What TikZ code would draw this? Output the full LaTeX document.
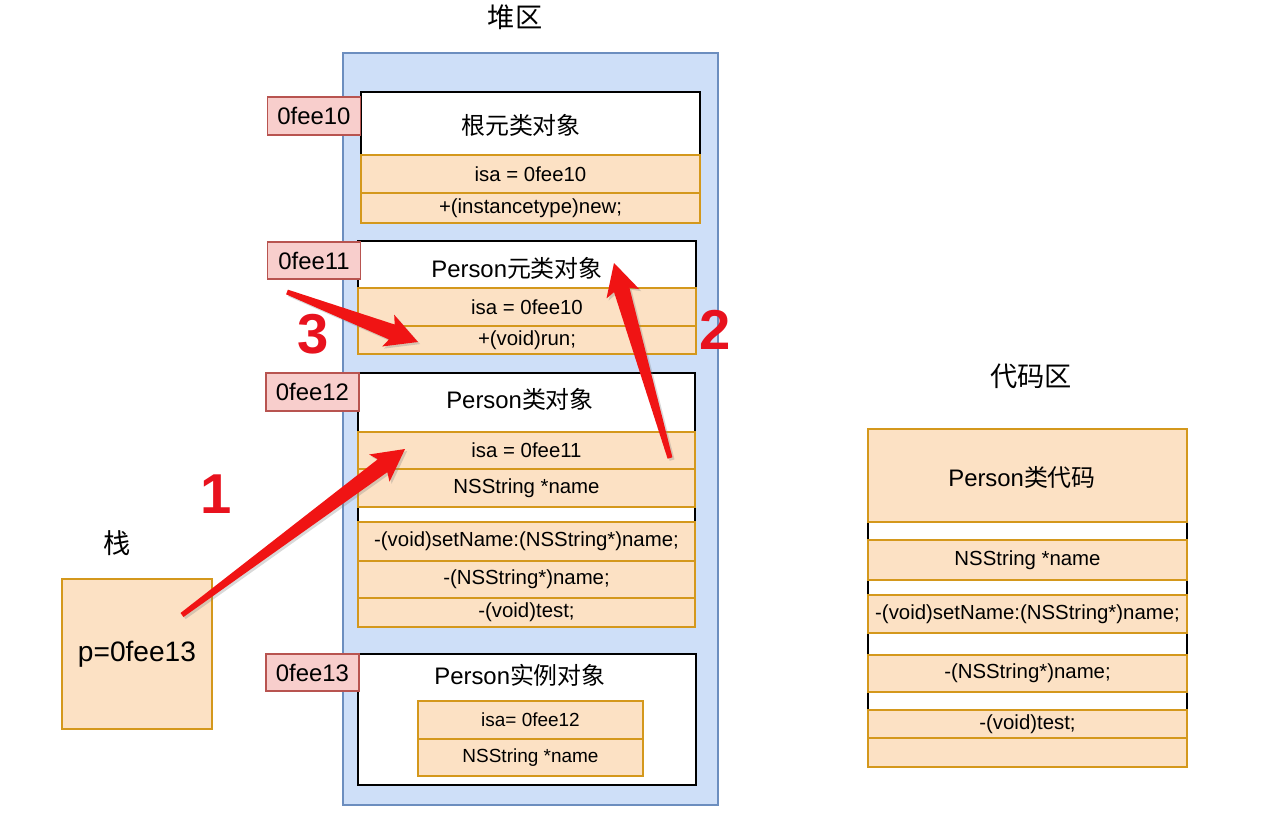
\documentclass[tikz,border=0pt]{standalone}
\usepackage{fontspec}
\setmainfont{Liberation Sans}
\newfontfamily\cjk{Noto Sans CJK SC}
\usepackage{tikz}
\usetikzlibrary{calc, shadows}
\definecolor{cHeap}{RGB}{206,223,248}
\definecolor{cHeapLine}{RGB}{108,142,191}
\definecolor{cCell}{RGB}{252,225,196}
\definecolor{cCellLine}{RGB}{212,152,28}
\definecolor{cAddr}{RGB}{248,206,204}
\definecolor{cAddrLine}{RGB}{184,84,80}
\definecolor{cArrow}{RGB}{240,20,20}
\definecolor{cNum}{RGB}{232,18,30}

% tapered arrow, tail -> tip
\newcommand{\fatarrow}[2]{%
  \fill[cArrow, drop shadow={opacity=0.3, shadow xshift=1.2pt, shadow yshift=-1.2pt}]
    ($(#1)!0.05cm!90:(#2)$)
    -- ($(#2)!0.56cm!(#1)!0.16cm!90:(#2)$)
    -- ($(#2)!0.64cm!(#1)!0.34cm!90:(#2)$)
    -- (#2)
    -- ($(#2)!0.64cm!(#1)!0.34cm!-90:(#2)$)
    -- ($(#2)!0.56cm!(#1)!0.16cm!-90:(#2)$)
    -- ($(#1)!0.05cm!-90:(#2)$) -- cycle;}

\begin{document}
\begin{tikzpicture}[x=0.02cm, y=-0.02cm,
            heap/.style={draw=cHeapLine, fill=cHeap, line width=0.9pt, inner sep=0pt},
            obj/.style={draw=black, fill=white, line width=1.5pt, inner sep=0pt},
            cell/.style={draw=cCellLine, fill=cCell, line width=1.1pt, inner sep=0pt,
                         font=\fontsize{11.6}{14}\selectfont},
            addr/.style={draw=cAddrLine, fill=cAddr, line width=1pt, inner sep=0pt,
                         minimum width=1.86cm, minimum height=0.75cm,
                         font=\fontsize{13.6}{16}\selectfont},
            ttl/.style={font=\fontsize{13.6}{16}\selectfont},
            area/.style={font=\cjk\fontsize{15.5}{18}\selectfont},
            num/.style={text=cNum, font=\bfseries\fontsize{32}{36}\selectfont}]
            \useasboundingbox (0,0) rectangle (1274,814);
            % heap
            \node[area] (heapttl) at (515,17) {堆区};
            \node[heap, minimum width=7.5cm, minimum height=15.04cm] (heap) at (530.5,429) {};
            % root meta class
            \node[obj, minimum width=6.78cm, minimum height=2.62cm] (root) at (530.5,157.5) {};
            \node[ttl] (rootttl) at (521,125) {\cjk 根元类对象};
            \foreach \n/\y/\h/\t in {1/174/0.76/{isa = 0fee10},2/208/0.6/{+(instancetype)new;}}{
                \node[cell, minimum width=6.78cm, minimum height=\h cm] (r\n) at (530.5,\y) {\t};}
            % Person meta class
            \node[obj, minimum width=6.76cm, minimum height=2.26cm] (meta) at (527,297.5) {};
            \node[ttl] (metattl) at (517,268) {Person{\cjk 元类对象}};
            \foreach \n/\y/\h/\t in {1/307/0.76/{isa = 0fee10},2/340/0.56/{+(void)run;}}{
                \node[cell, minimum width=6.76cm, minimum height=\h cm] (m\n) at (527,\y) {\t};}
            % Person class
            \node[obj, minimum width=6.74cm, minimum height=5.08cm] (cls) at (526.5,500) {};
            \node[ttl] (clsttl) at (520,399) {Person{\cjk 类对象}};
            \foreach \n/\y/\h/\t in {1/450.5/0.74/{isa = 0fee11},2/488/0.76/{NSString *name},
                                     3/541.5/0.78/{-(void)setName:(NSString*)name;},
                                     4/579.5/0.74/{-(NSString*)name;},5/612.5/0.58/{-(void)test;}}{
                \node[cell, minimum width=6.74cm, minimum height=\h cm] (c\n) at (526.5,\y) {\t};}
            % Person instance
            \node[obj, minimum width=6.76cm, minimum height=2.62cm] (inst) at (527,719.5) {};
            \node[ttl] (instttl) at (520,675) {Person{\cjk 实例对象}};
            \foreach \n/\y/\h/\t in {1/720/0.76/{isa= 0fee12},2/757.5/0.74/{NSString *name}}{
                \node[cell, minimum width=4.5cm, minimum height=\h cm,
                      font=\fontsize{10.8}{13}\selectfont] (i\n) at (530.5,\y) {\t};}
            % addresses
            \foreach \n/\x/\y/\t in {a/314/116/0fee10,b/314/260.5/0fee11,
                                     c/312.5/392/0fee12,d/312.5/672.5/0fee13}{
                \node[addr] (\n) at (\x,\y) {\t};}
            % stack
            \node[area] (stackttl) at (117,543) {栈};
            \node[cell, minimum width=3cm, minimum height=3cm,
                  font=\fontsize{16}{19}\selectfont] (p) at (137,654) {p=0fee13};
            % code area
            \node[area] (codettl) at (1031,376) {代码区};
            \node[obj, line width=1.1pt, minimum width=6.38cm, minimum height=6.76cm] (code) at (1027.5,598) {};
            \foreach \n/\y/\h/\t in {1/475.5/1.86/{},2/560/0.8/{NSString *name},
                                     3/614/0.76/{-(void)setName:(NSString*)name;},
                                     4/673.5/0.74/{-(NSString*)name;},5/724/0.56/{-(void)test;},
                                     6/752.5/0.58/{}}{
                \node[cell, minimum width=6.38cm, minimum height=\h cm] (k\n) at (1027.5,\y) {\t};}
            \node[ttl] (codecls) at (1022,477) {Person{\cjk 类代码}};
            % red arrows
            \coordinate (t1) at (182,615);  \coordinate (h1) at (405,449);
            \coordinate (t2) at (670,458);  \coordinate (h2) at (614,263);
            \coordinate (t3) at (287,292);  \coordinate (h3) at (418,342);
            \fatarrow{t1}{h1}
            \fatarrow{t2}{h2}
            \fatarrow{t3}{h3}
            \node[num] (n1) at (216,494) {1};
            \node[num] (n2) at (715,330) {2};
            \node[num] (n3) at (313,334) {3};
        \end{tikzpicture}
\end{document}
